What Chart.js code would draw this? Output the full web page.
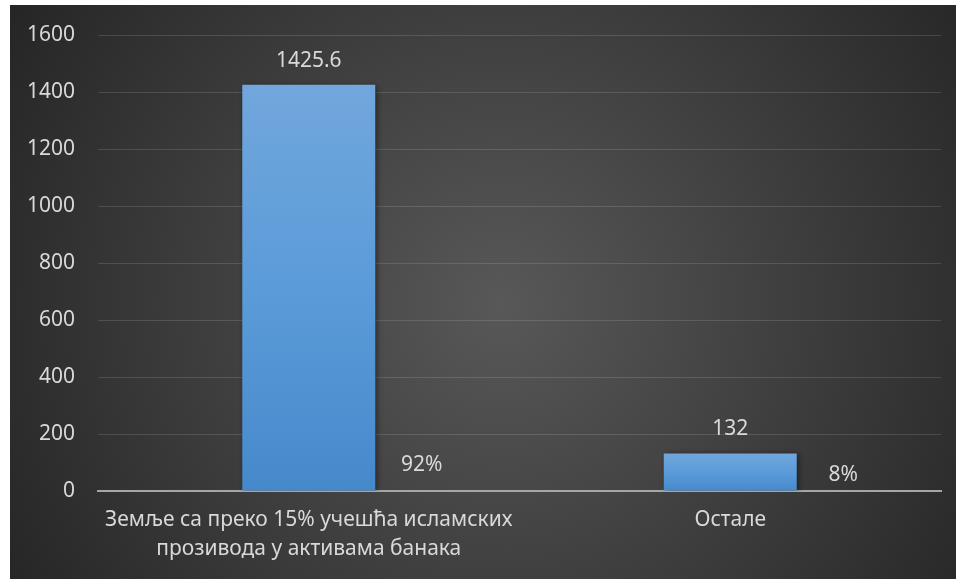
<!DOCTYPE html>
<html>
<head>
<meta charset="utf-8">
<script src="https://cdn.jsdelivr.net/npm/chart.js@4"></script>
<style>
    body { margin: 0; background: #ffffff; }
    #wrap { position: absolute; left: 10px; top: 5px; width: 946px; height: 574px; }
</style>
</head>
<body>
<div id="wrap"><canvas id="barChart"></canvas></div>
<script>
// data
const categories = [
    ["Земље са преко 15% учешћа исламских", "прозивода у активама банака"],
    "Остале"
];
const values = [1425.6, 132];
const shares = [92, 8];
const yTicks = { min: 0, max: 1600, step: 200 };

const textColor = "#d9d9d9";
const font = { family: "'Noto Sans', sans-serif", size: 21 };

// dark radial backdrop like the office theme
const backdrop = {
    id: "backdrop",
    beforeDraw(chart) {
        const { ctx, width, height } = chart;
        const g = ctx.createRadialGradient(width * 0.52, height * 0.52, 0, width * 0.52, height * 0.52, width * 0.6);
        g.addColorStop(0, "#585858");
        g.addColorStop(1, "#262626");
        ctx.save();
        ctx.fillStyle = g;
        ctx.fillRect(0, 0, width, height);
        ctx.restore();
    }
};

// soft shadow under the bars
const barShadow = {
    id: "barShadow",
    beforeDatasetDraw(chart) {
        const ctx = chart.ctx;
        ctx.save();
        ctx.shadowColor = "rgba(0,0,0,0.45)";
        ctx.shadowBlur = 6;
        ctx.shadowOffsetX = 2;
        ctx.shadowOffsetY = 1;
    },
    afterDatasetDraw(chart) {
        chart.ctx.restore();
    }
};

// value labels above the bars and share labels beside them
const labels = {
    id: "labels",
    afterDatasetsDraw(chart) {
        const ctx = chart.ctx;
        const meta = chart.getDatasetMeta(0);
        const y2 = chart.scales.y2;
        ctx.save();
        ctx.fillStyle = textColor;
        ctx.font = font.size + "px " + font.family;
        ctx.textAlign = "center";
        ctx.textBaseline = "middle";
        meta.data.forEach((bar, i) => {
            ctx.fillText(String(values[i]), bar.x, bar.y - 24);
            ctx.fillText(shares[i] + "%", bar.x + bar.width * 0.85, y2.getPixelForValue(shares[i]));
        });
        ctx.restore();
    }
};

function barFill(c) {
    const y = c.chart.scales.y;
    if (!y || c.raw === undefined) return "#5b9bd5";
    const top = y.getPixelForValue(c.raw);
    const bottom = y.getPixelForValue(0);
    if (!isFinite(top) || !isFinite(bottom) || top === bottom) return "#5b9bd5";
    const g = c.chart.ctx.createLinearGradient(0, top, 0, bottom);
    g.addColorStop(0, "#71a7dc");
    g.addColorStop(0.5, "#5b9bd9");
    g.addColorStop(1, "#4689cb");
    return g;
}

const ctx = document.getElementById("barChart").getContext("2d");
new Chart(ctx, {
    type: "bar",
    data: {
        labels: categories,
        datasets: [{
            label: "Активa",
            data: values,
            backgroundColor: barFill,
            borderWidth: 0,
            categoryPercentage: 1,
            barPercentage: 0.3155
        }]
    },
    options: {
        responsive: true,
        maintainAspectRatio: false,
        animation: false,
        layout: { padding: { top: 30, right: 15, left: 0, bottom: 0 } },
        plugins: {
            legend: { display: false },
            tooltip: { enabled: false }
        },
        scales: {
            x: {
                grid: { display: false, drawTicks: false },
                border: { display: true, color: "#a6a6a6", width: 2 },
                ticks: {
                    color: textColor,
                    font: { family: font.family, size: font.size, lineHeight: 1.38 },
                    padding: 15,
                    maxRotation: 0
                },
                afterFit(scale) { scale.height = 88; }
            },
            y: {
                min: yTicks.min,
                max: yTicks.max,
                ticks: {
                    stepSize: yTicks.step,
                    color: textColor,
                    font: font,
                    padding: 0,
                    callback: v => String(v)
                },
                grid: {
                    color: "rgba(255,255,255,0.13)",
                    lineWidth: 1,
                    drawTicks: true,
                    tickLength: 23,
                    tickColor: "rgba(0,0,0,0)"
                },
                border: { display: false },
                afterFit(scale) { scale.width = 88; }
            },
            y2: {
                display: false,
                min: -122,
                max: 3700
            }
        }
    },
    plugins: [backdrop, barShadow, labels]
});
</script>
</body>
</html>
